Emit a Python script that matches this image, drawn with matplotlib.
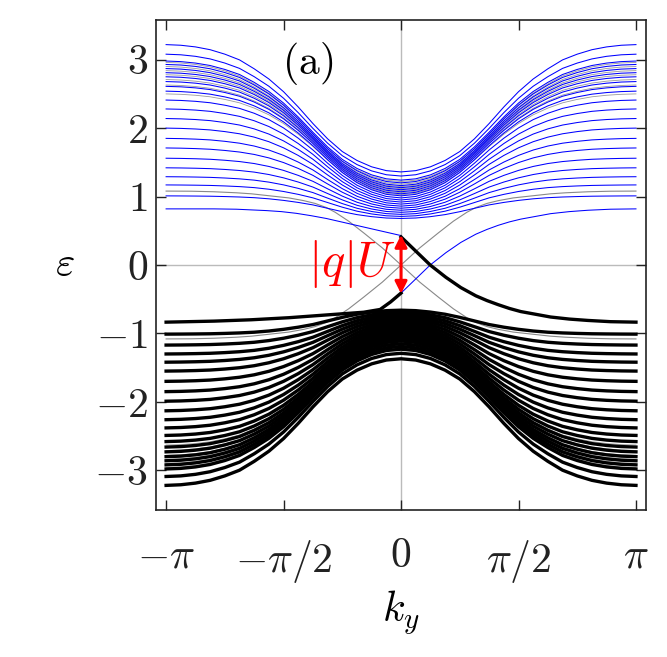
import numpy as np
import matplotlib
matplotlib.use("Agg")
import matplotlib.pyplot as plt

plt.rcParams["mathtext.fontset"] = "cm"
plt.rcParams["font.family"] = "serif"
plt.rcParams["font.serif"] = ["cmr10", "DejaVu Serif"]

PI = np.pi

# k sample points on [0, pi] (fractions of pi) for the bulk band profiles
k_frac = [i / 16 for i in range(17)]
prof_top = [0, 0.01, 0.04, 0.09, 0.16, 0.26, 0.38, 0.51, 0.63,
            0.73, 0.81, 0.88, 0.925, 0.96, 0.982, 0.995, 1.0]
prof_low = [0, 0.02, 0.08, 0.17, 0.30, 0.45, 0.60, 0.71, 0.80,
            0.87, 0.92, 0.95, 0.97, 0.985, 0.992, 0.997, 1.0]

# upper bulk bands (blue): energy at k=0 and at k=pi
up_k0 = [0.68, 0.71, 0.74, 0.77, 0.80, 0.83, 0.86, 0.89, 0.92, 0.95, 0.98,
         1.01, 1.04, 1.07, 1.10, 1.13, 1.16, 1.20, 1.24, 1.30, 1.36]
up_kpi = [1.01, 1.17, 1.29, 1.42, 1.56, 1.71, 1.85, 2.00, 2.14, 2.28, 2.41,
          2.54, 2.61, 2.68, 2.75, 2.81, 2.87, 2.93, 2.98, 3.08, 3.22]
# lower bulk bands (black)
lo_k0 = [-0.66, -0.69, -0.72, -0.75, -0.78, -0.81, -0.84, -0.87, -0.90, -0.93, -0.96,
         -0.99, -1.02, -1.05, -1.08, -1.11, -1.15, -1.19, -1.23, -1.29, -1.37]
lo_kpi = [-1.01, -1.17, -1.30, -1.42, -1.55, -1.70, -1.85, -1.99, -2.13, -2.26, -2.38,
          -2.49, -2.58, -2.66, -2.73, -2.80, -2.86, -2.92, -2.98, -3.09, -3.22]
# grey (q=0) bulk bands peeking out between the coloured ones
gr_k0 = [1.025, 1.055, 1.085, 1.115, 1.145, 1.18, 1.22]
gr_kpi = [2.50, 2.63, 2.71, 2.78, 2.84, 2.90, 2.96]
gr_frac = [0.55, 0.62, 0.68, 0.74, 0.80, 0.86, 0.92]

# edge states
eb_left_k = [-PI, -2.8, -2.5, -2.2, -2.0, -1.8, -1.6, -1.4, -1.2, -1.0, -0.8, -0.6, -0.4, -0.2, 0]
eb_left_e = [0.82, 0.82, 0.82, 0.815, 0.805, 0.795, 0.78, 0.755, 0.72, 0.68, 0.63, 0.58, 0.53, 0.48, 0.43]
er_k = [0, 0.2, 0.39, 0.6, 0.8, 1.0, 1.15, 1.3, 1.45, 1.6, 1.8, 2.0, 2.25, 2.5, 2.8, PI]
eb_right_e = [-0.41, -0.2, 0.0, 0.18, 0.33, 0.45, 0.52, 0.58, 0.63, 0.67, 0.71, 0.75, 0.78, 0.80, 0.815, 0.82]
ek_right_e = [0.41, 0.2, 0.0, -0.18, -0.33, -0.45, -0.52, -0.58, -0.635, -0.68, -0.72, -0.76, -0.79, -0.81, -0.828, -0.835]
ek_left_k = [-PI, -2.5, -2.0, -1.5, -1.0, -0.5, -0.28, -0.14, 0]
ek_left_e = [-0.835, -0.82, -0.80, -0.77, -0.73, -0.69, -0.65, -0.54, -0.41]

# gapless (q=0) edge state, grey; its partner is the mirror -e
gray_k = [-PI, -2.8, -2.5, -2.2, -2.0, -1.75, -1.5, -1.3, -1.15, -1.0, -0.88, -0.7, -0.5, -0.25, 0,
          0.25, 0.5, 0.7, 0.88, 1.0, 1.15, 1.3, 1.5, 1.75, 2.0, 2.2, 2.5, 2.8, PI]
gray_e = [1.08, 1.078, 1.07, 1.055, 1.04, 1.01, 0.98, 0.94, 0.90, 0.84, 0.77, 0.64, 0.47, 0.25, 0,
          -0.25, -0.47, -0.64, -0.77, -0.84, -0.90, -0.94, -0.98, -1.01, -1.04, -1.055, -1.07, -1.078, -1.08]

x_ticks = [-PI, -PI / 2, 0, PI / 2, PI]
x_labels = [r"$-\pi$", r"$-\pi/2$", r"$0$", r"$\pi/2$", r"$\pi$"]
y_ticks = [-3, -2, -1, 0, 1, 2, 3]


def band(e0, e1, frac):
    kh = np.array(k_frac) * PI
    prof = (1 - frac) * np.array(prof_low) + frac * np.array(prof_top)
    e = e0 + (e1 - e0) * prof
    k = np.concatenate([-kh[::-1], kh[1:]])
    e = np.concatenate([e[::-1], e[1:]])
    return k, e


fig = plt.figure(figsize=(6.67, 6.57), dpi=100)
ax = fig.add_axes([0.234, 0.2237, 0.7345, 0.7459])

ax.axhline(0, color="#bbbbbb", lw=1, zorder=0)
ax.axvline(0, color="#bbbbbb", lw=1, zorder=0)

ax.plot(gray_k, gray_e, color="#888888", lw=0.8, zorder=1)
ax.plot(gray_k, [-v for v in gray_e], color="#888888", lw=0.8, zorder=1)
for i in range(len(gr_k0)):
    k, e = band(gr_k0[i], gr_kpi[i], gr_frac[i])
    ax.plot(k, e, color="#999999", lw=0.6, zorder=1)
    ax.plot(k, -e, color="#999999", lw=0.6, zorder=1)

n = len(up_k0)
for i in range(n):
    k, e = band(up_k0[i], up_kpi[i], i / (n - 1))
    ax.plot(k, e, color="#0000ff", lw=0.75, zorder=2)
for i in range(len(lo_k0)):
    k, e = band(lo_k0[i], lo_kpi[i], i / (len(lo_k0) - 1))
    ax.plot(k, e, color="black", lw=2.4, zorder=3)

ax.plot(eb_left_k, eb_left_e, color="#0000ff", lw=0.75, zorder=2)
ax.plot(er_k, eb_right_e, color="#0000ff", lw=0.75, zorder=2)
ax.plot(er_k, ek_right_e, color="black", lw=2.4, zorder=3)
ax.plot(ek_left_k, ek_left_e, color="black", lw=2.4, zorder=3)

ax.annotate("", xy=(0, 0.44), xytext=(0, -0.42),
            arrowprops=dict(arrowstyle="<|-|>", color="red", lw=2.2,
                            mutation_scale=18, shrinkA=0, shrinkB=0), zorder=5)
ax.text(-0.07, 0.02, r"$|q|U$", color="red", fontsize=35, ha="right", va="center")
ax.text(-1.25, 2.95, r"$\mathrm{(a)}$", fontsize=30, ha="center", va="center")

ax.set_xlim(-PI - 0.134, PI + 0.134)
ax.set_ylim(-3.58, 3.58)
ax.set_xticks(x_ticks)
ax.set_xticklabels(x_labels)
ax.set_yticks(y_ticks)
ax.set_yticklabels([rf"${v}$" if v >= 0 else rf"$-{abs(v)}$" for v in y_ticks])
ax.tick_params(direction="in", length=7, width=1, top=True, right=True,
               labelsize=30, colors="#222222")
ax.tick_params(axis="x", pad=20)
ax.tick_params(axis="y", pad=6)
for s in ax.spines.values():
    s.set_linewidth(1.2)
    s.set_color("#222222")

ax.set_xlabel(r"$k_y$", fontsize=30, va="center")
ax.xaxis.set_label_coords(0.5, -0.21)
ax.set_ylabel(r"$\varepsilon$", fontsize=30, rotation=0, va="center", ha="center")
ax.yaxis.set_label_coords(-0.186, 0.5)

fig.savefig("out.png", dpi=100)
